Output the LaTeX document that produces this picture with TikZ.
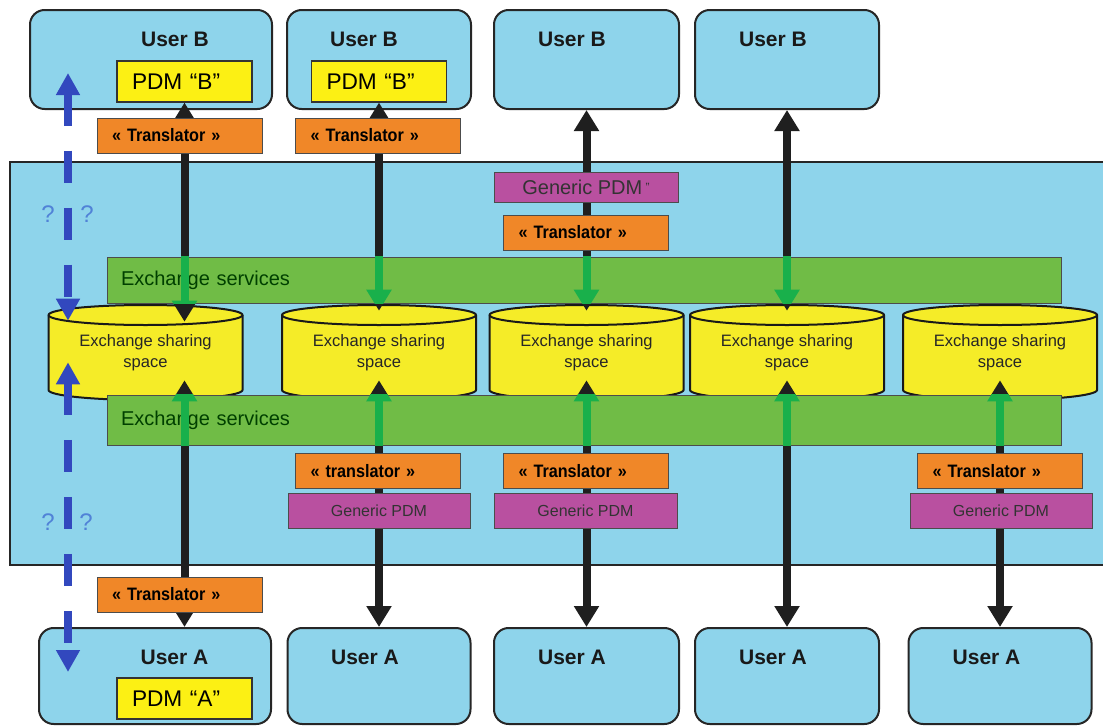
\documentclass[tikz,border=0pt]{standalone}
\usepackage{fontspec}
\setmainfont{Liberation Sans}
\newfontfamily\narrowfont[FakeStretch=0.9]{Liberation Sans}
\usetikzlibrary{arrows.meta,calc}

\definecolor{skyfill}{RGB}{142,212,235}
\definecolor{pdmyellow}{RGB}{252,240,20}
\definecolor{tankyellow}{RGB}{245,236,40}
\definecolor{trorange}{RGB}{240,135,40}
\definecolor{genpurple}{RGB}{185,80,160}
\definecolor{bandgreen}{RGB}{112,188,70}
\definecolor{linkgreen}{RGB}{25,176,75}
\definecolor{qblue}{RGB}{50,72,190}
\definecolor{qmarkblue}{RGB}{80,130,215}

% links between the users and the sharing spaces
\newcommand\toplinks[1]{%
	\draw[#1] (pb1.south) -- ($(cyl1.north)+(39,17)$);
	\draw[#1] (pb2.south) -- ($(cyl2.north)+(0,6)$);
	\draw[#1] (ub3.south) -- ($(cyl3.north)+(0,6)$);
	\draw[#1] (ub4.south) -- ($(cyl4.north)+(0,6)$);
}
\newcommand\botlinks[1]{%
	\draw[#1] ($(cyl1.south)+(39,-20)$) coordinate (b1) -- (b1 |- ua1.north);
	\draw[#1] ($(cyl2.south)+(0,-20)$) -- (ua2.north);
	\draw[#1] ($(cyl3.south)+(0,-20)$) -- (ua3.north);
	\draw[#1] ($(cyl4.south)+(0,-20)$) -- (ua4.north);
	\draw[#1] ($(cyl5.south)+(0,-20)$) -- (ua5.north);
}

\begin{document}
\begin{tikzpicture}[
	x=0.75pt, y=-0.75pt,
	panel/.style={draw=black!85,line width=1.2pt,fill=skyfill,inner sep=0pt},
	userbox/.style={draw=black!85,line width=1.5pt,fill=skyfill,rounded corners=11pt,minimum height=74.25pt},
	usertext/.style={font=\bfseries\fontsize{15.75}{18}\selectfont,text=black!90},
	pdmbox/.style={draw=black!80,line width=.8pt,fill=pdmyellow,minimum width=101.25pt,minimum height=30.75pt,
		text width=78.75pt,inner xsep=11.25pt,inner ysep=0pt,align=left,font=\fontsize{17}{20}\selectfont},
	trbox/.style={draw=black!70,line width=.6pt,fill=trorange,minimum width=123.75pt,minimum height=26.25pt,
		text width=101.25pt,inner xsep=11.25pt,inner ysep=0pt,align=left,font=\narrowfont\bfseries\fontsize{13.5}{16}\selectfont},
	genbox/.style={draw=black!70,line width=.6pt,fill=genpurple,minimum height=26.25pt,inner sep=0pt,
		text=black!80,font=\fontsize{12}{14}\selectfont},
	band/.style={draw=black!70,line width=.6pt,fill=bandgreen,minimum width=715.5pt,text width=694.5pt,
		inner xsep=10.5pt,inner ysep=0pt,align=left,text=black!75!green,font=\fontsize{15}{18}\selectfont},
	tankline/.style={draw=black!90,line width=1.5pt,fill=tankyellow},
	tank/.style={minimum width=145.5pt,minimum height=71.25pt,inner sep=0pt,align=center,
		text=black!85,font=\fontsize{12.4}{15.75}\selectfont},
	link/.style={line width=6pt,draw=black!88,{Triangle[length=15.75pt,width=18pt]}-{Triangle[length=15.75pt,width=18pt]}},
	glink/.style={link,draw=linkgreen},
	qlink/.style={line width=6pt,draw=qblue,dash pattern=on 24pt off 18.75pt,
		{Triangle[length=16.5pt,width=17pt]}-{Triangle[length=16.5pt,width=17pt]}},
	qmark/.style={text=qmarkblue,inner sep=0pt,font=\fontsize{18}{20}\selectfont}
]
	\useasboundingbox (0,0) rectangle (1103,725);

	\node[panel,minimum width=820.5pt,minimum height=302.25pt] (hub) at (557,363.5) {};

	% users B
	\node[userbox,minimum width=181.5pt] (ub1) at (151,59.5) {};
	\node[userbox,minimum width=138pt] (ub2) at (379,59.5) {};
	\node[userbox,minimum width=138.75pt] (ub3) at (586.5,59.5) {};
	\node[userbox,minimum width=138pt] (ub4) at (787,59.5) {};
	\node[usertext] (ub1t) at (175,39) {User B};
	\node[usertext] (ub2t) at (364,39) {User B};
	\node[usertext] (ub3t) at (572,39) {User B};
	\node[usertext] (ub4t) at (773,39) {User B};
	\node[pdmbox] (pb1) at (184.5,81.5) {PDM “B”};
	\node[pdmbox] (pb2) at (379,81.5) {PDM “B”};

	% users A
	\node[userbox,minimum width=174pt,minimum height=72pt] (ua1) at (155,676) {};
	\node[userbox,minimum width=137.25pt,minimum height=72pt] (ua2) at (379,676) {};
	\node[userbox,minimum width=138.75pt,minimum height=72pt] (ua3) at (586.5,676) {};
	\node[userbox,minimum width=138pt,minimum height=72pt] (ua4) at (787,676) {};
	\node[userbox,minimum width=137.25pt,minimum height=72pt] (ua5) at (1000,676) {};
	\node[usertext] (ua1t) at (174.5,657) {User A};
	\node[usertext] (ua2t) at (365,657) {User A};
	\node[usertext] (ua3t) at (572,657) {User A};
	\node[usertext] (ua4t) at (773,657) {User A};
	\node[usertext] (ua5t) at (986.5,657) {User A};
	\node[pdmbox] (pa1) at (184.5,698.5) {PDM “A”};

	% sharing spaces
	\foreach \cx [count=\i] in {145.5,379,586.5,787,1000} {
		\filldraw[tankline] (\cx,352.5) ++(-72.75pt,28.125pt) -- ++(0,-56.25pt)
			arc[start angle=180,end angle=360,x radius=72.75pt,y radius=7.5pt] -- ++(0,56.25pt)
			arc[start angle=0,end angle=180,x radius=72.75pt,y radius=7.5pt] -- cycle;
		\draw[tankline,fill=none] (\cx,352.5) ++(-72.75pt,28.125pt)
			arc[start angle=180,end angle=360,x radius=72.75pt,y radius=7.5pt];
		\node[tank] (cyl\i) at (\cx,352.5) {Exchange sharing\\space};
	}

	\toplinks{link}
	\botlinks{link}

	\node[band,minimum height=34.5pt] (es1) at (584,280) {Exchange services};
	\node[band,minimum height=37.5pt] (es2) at (584,420) {Exchange services};

	\begin{scope}
		\clip (es1.north west) rectangle (es1.south east);
		\toplinks{glink}
	\end{scope}
	\begin{scope}
		\clip (es2.north west) rectangle (es2.south east);
		\botlinks{glink}
	\end{scope}

	% translators and generic PDMs
	\node[trbox] (tt1) at (179.5,135.5) {« Translator »};
	\node[trbox] (tt2) at (378,135.5) {« Translator »};
	\node[genbox,minimum width=138pt,minimum height=22.5pt,font=\fontsize{15}{18}\selectfont] (gt3) at (586,187)
		{Generic PDM\,\raisebox{2pt}{\fontsize{9}{10}\selectfont"}};
	\node[trbox] (tm3) at (586,232.5) {« Translator »};
	\node[trbox] (lt2) at (378,471) {« translator »};
	\node[trbox] (lt3) at (586,471) {« Translator »};
	\node[trbox] (lt5) at (1000,471) {« Translator »};
	\node[genbox,minimum width=136.5pt] (lg2) at (379,510.5) {Generic PDM};
	\node[genbox,minimum width=137.25pt] (lg3) at (585.5,510.5) {Generic PDM};
	\node[genbox,minimum width=136.5pt] (lg5) at (1001,510.5) {Generic PDM};
	\node[trbox] (bt1) at (179.5,594.5) {« Translator »};

	% direct exchange?
	\coordinate (qtop) at (68,73);
	\coordinate (qbot) at (68,672);
	\draw[qlink] (qtop) -- ($(cyl1.north)+(-77.5,16)$)
		node[qmark,pos=.57,xshift=-15pt] (q1) {?}
		node[qmark,pos=.57,xshift=14.25pt] (q2) {?};
	\draw[qlink] ($(cyl1.south)+(-77.5,-38)$) -- (qbot)
		node[qmark,pos=.516,xshift=-15pt] (q3) {?}
		node[qmark,pos=.516,xshift=13.5pt] (q4) {?};

\end{tikzpicture}
\end{document}
